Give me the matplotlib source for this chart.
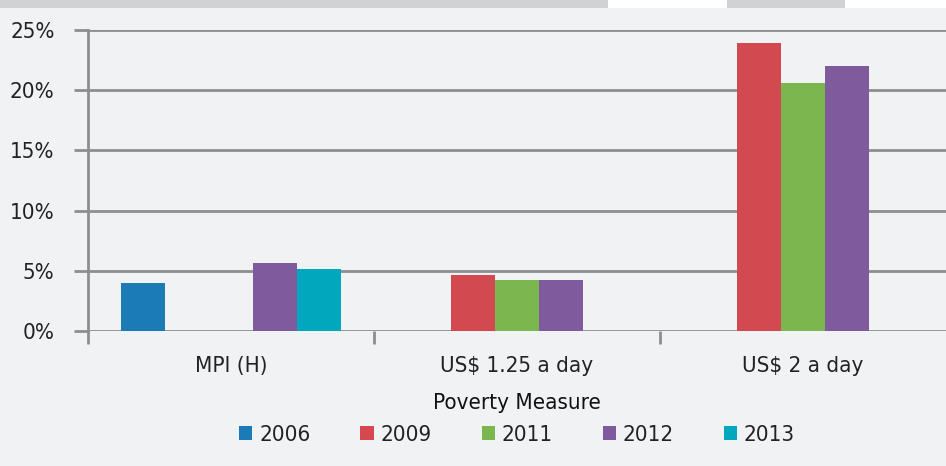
import numpy as np
import matplotlib.pyplot as plt
from matplotlib.patches import Rectangle

plt.rcParams['font.family'] = ['DejaVu Sans']
plt.rcParams['font.stretch'] = 'condensed'

categories = ['MPI (H)', 'US$ 1.25 a day', 'US$ 2 a day']
years = ['2006', '2009', '2011', '2012', '2013']
# values in percent, NaN = no data for that year
values = {
    '2006': [4.0, np.nan, np.nan],
    '2009': [np.nan, 4.65, 23.9],
    '2011': [np.nan, 4.25, 20.6],
    '2012': [5.65, 4.25, 22.0],
    '2013': [5.15, np.nan, np.nan],
}
colors = ['#1a7bb7', '#d2494f', '#7cb64f', '#7f5a9c', '#00a7bd']

bg = '#f1f2f4'
grid_c = '#8b8f8f'

fig = plt.figure(figsize=(9.46, 4.66), dpi=100)
fig.patch.set_facecolor('white')
# page background and the grey strips along the top edge
fig.patches.append(Rectangle((0, 0), 1, 1 - 8 / 466, transform=fig.transFigure,
                             facecolor=bg, edgecolor='none', zorder=-10))
fig.patches.append(Rectangle((0, 1 - 8 / 466), 608 / 946, 8 / 466, transform=fig.transFigure,
                             facecolor='#d1d2d4', edgecolor='none', zorder=-10))
fig.patches.append(Rectangle((727 / 946, 1 - 8 / 466), 118 / 946, 8 / 466, transform=fig.transFigure,
                             facecolor='#d1d2d4', edgecolor='none', zorder=-10))

ax = fig.add_axes([88 / 946, 135 / 466, 858 / 946, 301 / 466])
ax.set_facecolor('none')

x = np.arange(len(categories))
w = 44 / 286
for i, (yr, c) in enumerate(zip(years, colors)):
    ax.bar(x + (i - 2) * w, values[yr], width=w, color=c, label=yr, zorder=3)

ax.set_xlim(-0.5, 2.5)
ax.set_ylim(0, 25)
ax.set_yticks(range(0, 26, 5))
ax.set_yticklabels([f'{v}%' for v in range(0, 26, 5)])
ax.yaxis.grid(True, color=grid_c, linewidth=2, zorder=1)
ax.set_xticks(x)
ax.set_xticklabels(categories)
ax.set_xticks([-0.5, 0.5, 1.5], minor=True)
ax.tick_params(axis='x', which='major', length=0, pad=18, labelsize=16, colors='#222222')
ax.tick_params(axis='x', which='minor', length=9, width=2, color=grid_c)
ax.tick_params(axis='y', length=10, width=2, color=grid_c, pad=14, labelsize=16,
               labelcolor='#222222')
for s in ['top', 'right', 'bottom']:
    ax.spines[s].set_visible(False)
ax.spines['left'].set_color(grid_c)
ax.spines['left'].set_linewidth(2)
ax.set_xlabel('Poverty Measure', fontsize=16, labelpad=12, color='#111111')

ax.legend(loc='center', bbox_to_anchor=(0.5, -0.345), ncol=5, frameon=False,
          fontsize=16, handlelength=0.6, handleheight=0.6, handletextpad=0.3,
          columnspacing=2.25, labelcolor='#222222', borderaxespad=0)

plt.savefig('out.png', dpi=100, facecolor=fig.get_facecolor())
